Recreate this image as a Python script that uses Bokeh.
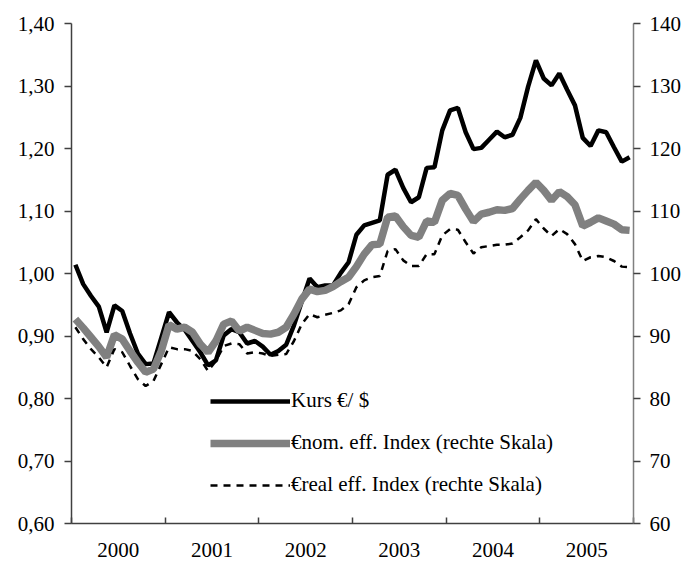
from bokeh.plotting import figure
from bokeh.models import (Range1d, LinearAxis, FixedTicker, CustomJSTickFormatter,
                          Legend, LegendItem, ColumnDataSource)
from bokeh.embed import file_html
from bokeh.resources import INLINE

# ---- data (monthly, Jan 2000 .. Dec 2005) ----
years = ["2000", "2001", "2002", "2003", "2004", "2005"]

kurs = [1.014, 0.983, 0.964, 0.947, 0.906, 0.949, 0.940, 0.904, 0.872, 0.855, 0.856, 0.897,
        0.938, 0.922, 0.910, 0.892, 0.874, 0.853, 0.861, 0.901, 0.911, 0.906, 0.888, 0.892,
        0.883, 0.870, 0.876, 0.886, 0.917, 0.955, 0.992, 0.978, 0.981, 0.981, 1.001, 1.018,
        1.062, 1.077, 1.081, 1.085, 1.158, 1.166, 1.137, 1.114, 1.122, 1.169, 1.170, 1.229,
        1.261, 1.265, 1.226, 1.199, 1.201, 1.214, 1.227, 1.218, 1.222, 1.249, 1.299, 1.341,
        1.312, 1.301, 1.320, 1.294, 1.269, 1.217, 1.204, 1.229, 1.226, 1.202, 1.179, 1.186]

nom_index = [92.7, 91.3, 89.8, 88.3, 86.6, 90.2, 89.5, 87.6, 85.8, 84.2, 84.7, 87.6,
             91.8, 91.1, 91.4, 90.6, 88.7, 87.4, 89.2, 91.9, 92.4, 90.8, 91.4, 90.9,
             90.4, 90.3, 90.6, 91.4, 93.5, 95.9, 97.5, 97.1, 97.3, 97.9, 98.7, 99.4,
             101.1, 103.1, 104.6, 104.7, 109.0, 109.2, 107.5, 106.1, 105.8, 108.4, 108.2, 111.7,
             112.8, 112.5, 110.3, 108.3, 109.5, 109.8, 110.2, 110.1, 110.4, 111.9, 113.3, 114.6,
             113.3, 111.7, 113.1, 112.3, 111.0, 107.6, 108.2, 108.9, 108.4, 107.9, 107.0, 106.9]

real_index = [91.4, 89.5, 87.9, 86.6, 85.0, 87.9, 87.4, 85.2, 83.1, 82.0, 82.8, 85.5,
              88.2, 87.9, 87.9, 87.6, 86.3, 84.4, 86.0, 88.4, 88.8, 88.7, 87.2, 87.4,
              87.2, 86.8, 87.0, 87.1, 89.2, 91.9, 93.5, 93.0, 93.4, 93.7, 94.1, 95.1,
              97.8, 98.9, 99.4, 99.6, 103.6, 103.9, 102.1, 101.2, 101.2, 103.1, 103.1, 106.1,
              107.1, 107.0, 105.0, 103.2, 104.2, 104.4, 104.6, 104.6, 104.8, 105.8, 106.9, 108.7,
              107.2, 106.0, 107.1, 106.3, 104.7, 102.0, 102.6, 102.8, 102.6, 102.0, 101.1, 101.0]

left_ticks = [0.6, 0.7, 0.8, 0.9, 1.0, 1.1, 1.2, 1.3, 1.4]
right_ticks = [60, 70, 80, 90, 100, 110, 120, 130, 140]

labels = ["Kurs €/ $", "€nom. eff. Index (rechte Skala)", "€real eff. Index (rechte Skala)"]

FONT = "Liberation Serif"
FS = "21px"

n = len(kurs)
src = ColumnDataSource(dict(x=[i + 0.5 for i in range(n)], kurs=kurs,
                            nom=nom_index, real=real_index))

p = figure(frame_width=562, frame_height=500,
           x_range=Range1d(0, 12 * len(years)), y_range=Range1d(left_ticks[0], left_ticks[-1]),
           x_axis_type=None, y_axis_type=None,
           output_backend="svg", toolbar_location=None,
           min_border_left=71, min_border_top=23, min_border_bottom=40, min_border_right=45)
p.extra_y_ranges = {"right": Range1d(right_ticks[0], right_ticks[-1])}
p.xgrid.visible = False
p.ygrid.visible = False
p.outline_line_color = None
p.background_fill_color = "white"
p.border_fill_color = "white"

# axes
left = LinearAxis(ticker=FixedTicker(ticks=left_ticks),
                  formatter=CustomJSTickFormatter(code="return tick.toFixed(2).replace('.', ',');"),
                  major_tick_out=7, major_tick_in=0, minor_tick_out=0, minor_tick_in=0,
                  major_label_standoff=10, axis_line_color="#404040", major_tick_line_color="#404040",
                  axis_line_width=1.5, major_tick_line_width=1.5,
                  major_label_text_font=FONT, major_label_text_font_size=FS,
                  major_label_text_color="black")
p.add_layout(left, "left")

right = LinearAxis(y_range_name="right", ticker=FixedTicker(ticks=right_ticks),
                   formatter=CustomJSTickFormatter(code="return tick.toFixed(0);"),
                   major_tick_out=7, major_tick_in=0, minor_tick_out=0, minor_tick_in=0,
                   major_label_standoff=9, axis_line_color="#808080", major_tick_line_color="#404040",
                   axis_line_width=1.5, major_tick_line_width=1.5,
                   major_label_text_font=FONT, major_label_text_font_size=FS,
                   major_label_text_color="black")
p.add_layout(right, "right")

centers = [12 * k + 6 for k in range(len(years))]
bounds = [12 * k for k in range(len(years) + 1)]
bottom = LinearAxis(ticker=FixedTicker(ticks=centers, minor_ticks=bounds),
                    major_label_overrides={c: y for c, y in zip(centers, years)},
                    major_tick_in=0, major_tick_out=0, minor_tick_in=6, minor_tick_out=0,
                    major_label_standoff=19, axis_line_color="#404040",
                    minor_tick_line_color="#404040", axis_line_width=1.5, minor_tick_line_width=1.5,
                    major_label_text_font=FONT, major_label_text_font_size=FS,
                    major_label_text_color="black")
p.add_layout(bottom, "below")

# lines
r1 = p.line("x", "kurs", source=src, line_color="black", line_width=4.5)
r2 = p.line("x", "nom", source=src, y_range_name="right", line_color="#808080", line_width=7.5)
r3 = p.line("x", "real", source=src, y_range_name="right", line_color="black", line_width=2.5,
            line_dash="7 6")

legend = Legend(items=[LegendItem(label=labels[0], renderers=[r1]),
                       LegendItem(label=labels[1], renderers=[r2]),
                       LegendItem(label=labels[2], renderers=[r3])],
                location=(139, 26), glyph_width=80, glyph_height=22, label_height=22,
                label_standoff=1, spacing=17, padding=0, margin=0,
                border_line_color=None, background_fill_alpha=0,
                label_text_font=FONT, label_text_font_size=FS, label_text_color="black")
p.add_layout(legend)

open("out.html", "w").write(file_html(p, INLINE))
